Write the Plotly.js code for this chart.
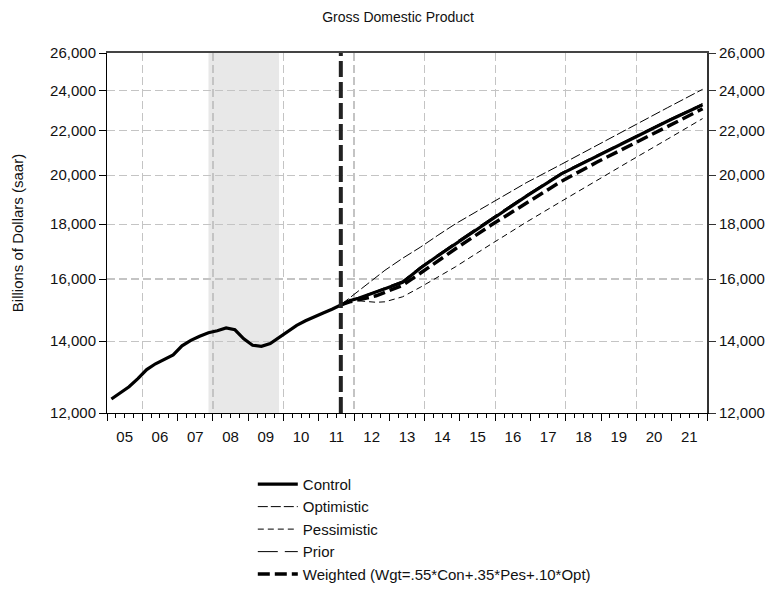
<!DOCTYPE html>
<html>
<head>
<meta charset="utf-8">
<script src="https://cdn.plot.ly/plotly-3.0.1.min.js"></script>
<style>html,body{margin:0;padding:0;background:#fff;}#chart{width:767px;height:590px;}</style>
</head>
<body>
<div id="chart"></div>
<script>
// ---- Data (billions of dollars, saar) ----
const histQuarters = ['2005Q1','2005Q2','2005Q3','2005Q4','2006Q1','2006Q2','2006Q3','2006Q4',
  '2007Q1','2007Q2','2007Q3','2007Q4','2008Q1','2008Q2','2008Q3','2008Q4',
  '2009Q1','2009Q2','2009Q3','2009Q4','2010Q1','2010Q2','2010Q3','2010Q4',
  '2011Q1','2011Q2'];
const histGDP = [12366,12519,12695,12920,13172,13338,13461,13595,
  13863,14028,14149,14256,14317,14403,14348,14073,
  13878,13849,13929,14119,14308,14487,14628,14764,
  14875,14997];

const fcstQuarters = ['2011Q3','2011Q4','2012Q1','2012Q2','2012Q3','2012Q4','2013Q2','2013Q4',
  '2014Q2','2014Q4','2015Q4','2016Q4','2017Q4','2018Q4','2019Q4','2020Q4','2021Q4'];
const control     = [15139,15270,15353,15451,15551,15669,15889,16374,16819,17259,18171,19112,20059,20826,21624,22452,23263];
const optimistic  = [15139,15368,15601,15837,16077,16304,16730,17130,17577,18017,18827,19674,20472,21325,22213,23113,24049];
const pessimistic = [15139,15319,15270,15237,15221,15237,15402,15719,16077,16427,17240,18074,18908,19781,20671,21601,22584];
const prior       = [15139,15290,15380,15480,15590,15710,15940,16430,16880,17320,18230,19170,20110,20880,21680,22510,23320];
const weighted    = [15139,15237,15302,15368,15435,15551,15787,16199,16640,17075,17958,18848,19738,20561,21371,22213,23064];

const recessionQuarters = ['2007Q4','2009Q4'];
const forecastStart = '2011Q3';

const yearLabels = ['05','06','07','08','09','10','11','12','13','14','15','16','17','18','19','20','21'];
const firstYear = 2005;
const yTicks = [12000,14000,16000,18000,20000,22000,24000,26000];
const yTickText = ['12,000','14,000','16,000','18,000','20,000','22,000','24,000','26,000'];

// ---- helpers ----
function qx(q){ const y = parseInt(q.slice(0,4)); const n = parseInt(q.slice(5)); return y + (n - 0.5)/4; }
const histX = histQuarters.map(qx);
const fcstX = fcstQuarters.map(qx);
const xRange = [firstYear, firstYear + yearLabels.length];
const yearBounds = []; for (let y = xRange[0]; y <= xRange[1]; y++) yearBounds.push(y);
const evenYears = yearBounds.filter(y => y % 2 === 0);
const yearCenters = yearLabels.map((_, i) => firstYear + i + 0.5);
const yRange = [Math.log10(yTicks[0]), Math.log10(yTicks[yTicks.length-1])];

const FONT = '"Liberation Sans Narrow", "Arial Narrow", "Liberation Sans", Arial, sans-serif';

const traces = [
  {name:'Control', x: histX.concat(fcstX), y: histGDP.concat(control), mode:'lines',
   line:{color:'#000', width:3.2}},
  {name:'Optimistic', x: fcstX, y: optimistic, mode:'lines', line:{color:'#000', width:1, dash:'10px,3px'}},
  {name:'Pessimistic', x: fcstX, y: pessimistic, mode:'lines', line:{color:'#000', width:1, dash:'6px,4px'}},
  {name:'Prior', x: fcstX, y: prior, mode:'lines', line:{color:'#000', width:1, dash:'20px,7px'}},
  {name:'Weighted (Wgt=.55*Con+.35*Pes+.10*Opt)', x: fcstX, y: weighted, mode:'lines',
   line:{color:'#000', width:3.5, dash:'12px,5px'}},
  {x:[], y:[], xaxis:'x2', yaxis:'y', showlegend:false, hoverinfo:'skip'},
  {x:[], y:[], xaxis:'x3', yaxis:'y', showlegend:false, hoverinfo:'skip'},
  {x:[], y:[], xaxis:'x4', yaxis:'y', showlegend:false, hoverinfo:'skip'},
  {x:[], y:[], xaxis:'x', yaxis:'y2', showlegend:false, hoverinfo:'skip'}
];

const gridStyle = {gridcolor:'#c4c4c4', gridwidth:1.3, griddash:'8px,4px'};

const layout = {
  width:767, height:590,
  margin:{l:107, r:60, t:53, b:177, autoexpand:false},
  paper_bgcolor:'#fff', plot_bgcolor:'rgba(0,0,0,0)',
  font:{family:FONT, size:15, color:'#111'},
  title:{text:'Gross Domestic Product', x:0.519, xanchor:'center', xref:'container',
         y:0.971, yanchor:'middle', font:{family:FONT, size:14, color:'#111'}},
  showlegend:true,
  legend:{x:0.243, xanchor:'left', yref:'container', y:0.207, yanchor:'top', orientation:'v',
          font:{family:FONT, size:15, color:'#111'}, tracegroupgap:0, itemwidth:40,
          bgcolor:'rgba(0,0,0,0)'},
  xaxis:Object.assign({range:xRange, tickmode:'array', tickvals:evenYears, showgrid:true,
         ticks:'', showticklabels:false, showline:true, linecolor:'#000', linewidth:1, zeroline:false,
         fixedrange:true}, gridStyle),
  xaxis2:{overlaying:'x', anchor:'y', range:xRange, tickmode:'array', tickvals:yearBounds,
          ticks:'outside', ticklen:7, tickwidth:1, tickcolor:'#000', showticklabels:false,
          showgrid:false, zeroline:false, showline:false,
          minor:{tick0:firstYear, dtick:0.25, ticks:'outside', ticklen:4, tickwidth:1, tickcolor:'#000', showgrid:false}},
  xaxis3:{overlaying:'x', anchor:'y', range:xRange, tickmode:'array', tickvals:yearCenters,
          ticktext:yearLabels, ticks:'outside', ticklen:10, tickcolor:'rgba(0,0,0,0)',
          showgrid:false, zeroline:false, showline:false,
          tickfont:{family:FONT, size:15, color:'#111'}},
  xaxis4:{overlaying:'x', anchor:'y', side:'top', range:xRange, showticklabels:false, ticks:'',
          showgrid:false, zeroline:false, showline:true, linecolor:'#444', linewidth:2},
  yaxis:Object.assign({type:'log', range:yRange, tickmode:'array', tickvals:yTicks, ticktext:yTickText,
         ticks:'outside', ticklen:7, tickcolor:'#000', showgrid:true, showline:true, linecolor:'#000',
         linewidth:1, zeroline:false, tickfont:{family:FONT, size:15, color:'#111'},
         title:{text:'Billions of Dollars (saar)', standoff:22, font:{family:FONT, size:15, color:'#111'}}}, gridStyle),
  yaxis2:{overlaying:'y', side:'right', anchor:'x', type:'log', range:yRange, tickmode:'array',
          tickvals:yTicks, ticktext:yTickText, ticks:'outside', ticklen:7, tickcolor:'#333',
          showgrid:false, showline:true, linecolor:'#333', linewidth:2, zeroline:false,
          tickfont:{family:FONT, size:15, color:'#111'}},
  shapes:[
    {type:'rect', xref:'x', yref:'paper', x0:qx(recessionQuarters[0]), x1:qx(recessionQuarters[1]),
     y0:0, y1:1, fillcolor:'#e8e8e8', line:{width:0}, layer:'below'},
    {type:'line', xref:'x', yref:'paper', x0:qx(forecastStart), x1:qx(forecastStart), y0:0, y1:1,
     line:{color:'#222', width:4, dash:'16px,5px'}, layer:'above'}
  ]
};

Plotly.newPlot('chart', traces, layout, {staticPlot:true, displayModeBar:false});
</script>
</body>
</html>
